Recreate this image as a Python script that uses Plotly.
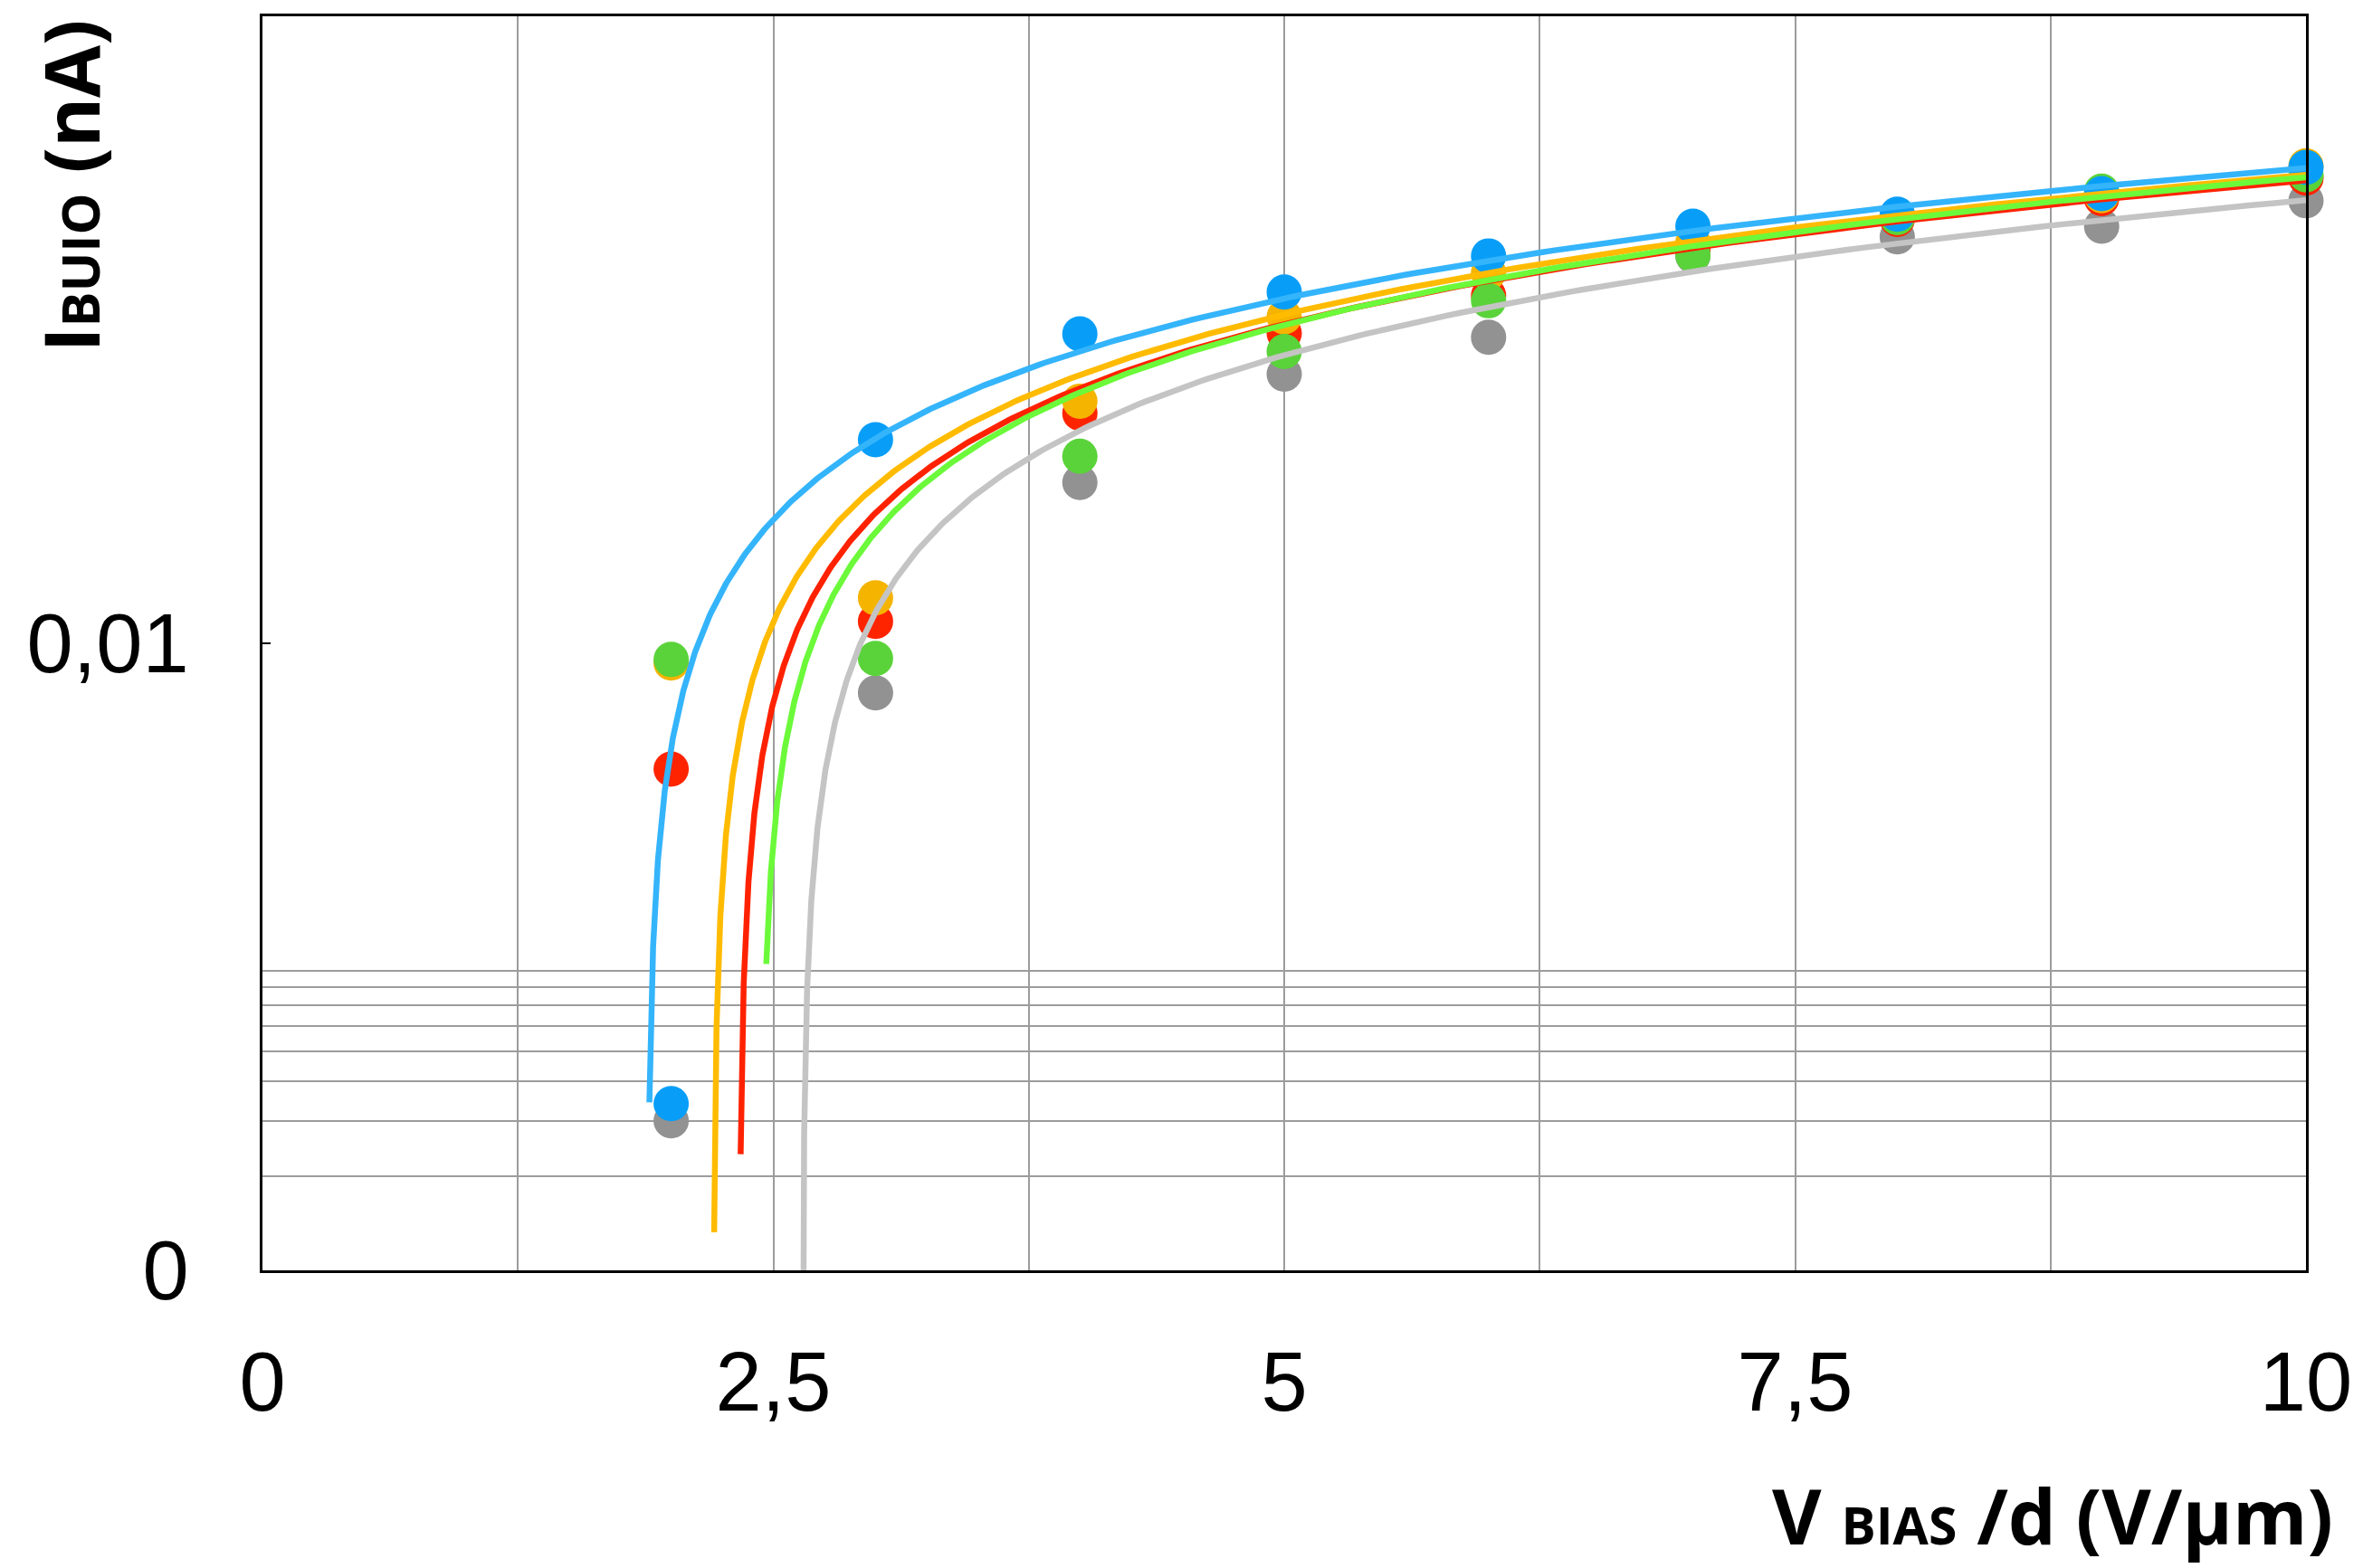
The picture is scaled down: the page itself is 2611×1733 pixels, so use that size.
import numpy as np
import plotly.graph_objects as go

# ---------------- data ----------------
x_vals = [2, 3, 4, 5, 6, 7, 8, 9, 10]

gray_vals   = [0.00030, 0.00695, 0.0326, 0.0722, 0.0947, 0.172, 0.198, 0.214, 0.258]
red_vals    = [0.00397, 0.01175, 0.0542, 0.0975, 0.1286, 0.180, 0.225, 0.262, 0.305]
orange_vals = [0.00865, 0.01397, 0.0592, 0.110, 0.152, 0.190, 0.232, 0.268, 0.3335]
green_vals  = [0.00888, 0.00895, 0.0395, 0.0853, 0.1238, 0.173, 0.228, 0.277, 0.312]
blue_vals   = [0.00034, 0.0446, 0.0970, 0.132, 0.172, 0.214, 0.2337, 0.272, 0.3297]

# linear trend lines (y = slope * (x - zero))
trend_slope = [0.0352, 0.0391, 0.04004, 0.04054, 0.0404]
trend_zero  = [2.643, 2.334, 2.2071, 2.442, 1.885]
trend_start = [2.6435, 2.340, 2.2104, 2.4654, 1.8935]

x_tick_vals = [0, 1.25, 2.5, 3.75, 5, 6.25, 7.5, 8.75, 10]
x_tick_text = ["0", "", "2,5", "", "5", "", "7,5", "", "10"]
y_tick_vals = [0.0001, 0.01]
y_tick_text = ["0", "0,01"]
y_minor_grid = [0.0002, 0.0003, 0.0004, 0.0005, 0.0006, 0.0007, 0.0008, 0.0009]

series_vals = [gray_vals, red_vals, orange_vals, green_vals, blue_vals]
marker_colors = ["#929292", "#fe2400", "#f4b400", "#5ad33a", "#089ef8"]
line_colors = ["#c4c4c4", "#ff2200", "#ffbb00", "#6cf93a", "#34b4fb"]

W, H = 2611, 1733
L, R, T, B = 290, 59, 18, 329
pw, ph = W - L - R, H - T - B

fig = go.Figure()

for vals, col in zip(series_vals, marker_colors):
    fig.add_trace(go.Scatter(
        x=x_vals, y=vals, mode="markers",
        marker=dict(size=39, color=col, line=dict(width=0)),
        showlegend=False, cliponaxis=False))

for m, z, s, col in zip(trend_slope, trend_zero, trend_start, line_colors):
    d = np.geomspace(s - z, 10 - z, 500)
    xs = z + d
    ys = m * d
    fig.add_trace(go.Scatter(
        x=xs, y=ys, mode="lines",
        line=dict(color=col, width=6.5),
        showlegend=False, hoverinfo="skip"))

tick_font = dict(family="Liberation Sans, Arial, Helvetica", size=92, color="black")

fig.update_layout(
    width=W, height=H,
    margin=dict(l=L, r=R, t=T, b=B, pad=0),
    paper_bgcolor="white", plot_bgcolor="white",
    xaxis=dict(
        range=[0, 10], tickmode="array", tickvals=x_tick_vals, ticktext=x_tick_text,
        showgrid=True, gridcolor="#9c9c9c", gridwidth=1.5, zeroline=False,
        showline=True, linecolor="black", linewidth=3, mirror=True,
        ticks="", tickfont=tick_font, ticklabelstandoff=42,
    ),
    yaxis=dict(
        type="log", range=[-4, 0], tickmode="array", tickvals=y_tick_vals, ticktext=y_tick_text,
        showgrid=False, zeroline=False,
        showline=True, linecolor="black", linewidth=3, mirror=True,
        ticks="inside", ticklen=9, tickwidth=2, tickcolor="black",
        tickfont=tick_font, ticklabelstandoff=60,
        minor=dict(tickmode="array", tickvals=y_minor_grid, showgrid=True,
                   gridcolor="#9c9c9c", gridwidth=1.5, ticks=""),
    ),
)

title_font = dict(family="Open Sans, Lato, DejaVu Sans", size=84, color="black", weight="bold")

fig.add_annotation(
    text="V <span style='font-size:57px'>BIAS</span> /d (V/µm)",
    xref="paper", yref="paper",
    x=(2584 - L) / pw, y=(T + ph - 1674) / ph,
    xanchor="right", yanchor="middle", showarrow=False, font=title_font)

fig.add_annotation(
    text="I<span style='font-size:58px'>BUIO</span> (nA)",
    xref="paper", yref="paper",
    x=(78 - L) / pw, y=(T + ph - 205) / ph,
    xanchor="center", yanchor="middle", textangle=-90, showarrow=False, font=title_font)

fig.write_html("out.html")
